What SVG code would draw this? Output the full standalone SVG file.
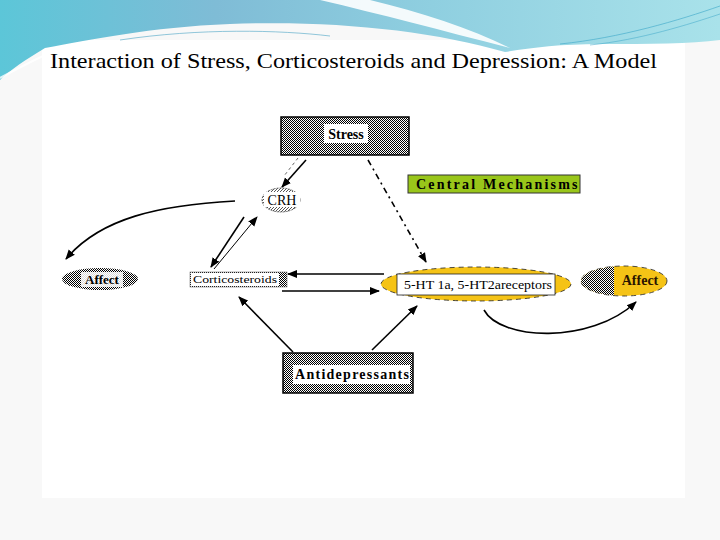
<svg xmlns="http://www.w3.org/2000/svg" width="720" height="540" viewBox="0 0 720 540">
<style>
text{font-family:"Liberation Serif","DejaVu Serif",serif;fill:#000}
.b{font-weight:bold}
.edge{stroke:#000;stroke-width:1.6;fill:none}
.thin{stroke:#000;stroke-width:1;fill:none}
</style>
<defs>
<pattern id="dither" patternUnits="userSpaceOnUse" width="2" height="2">
<rect width="2" height="2" fill="#fff"/>
<rect width="1" height="1" fill="#000"/>
<rect x="1" y="1" width="1" height="1" fill="#000"/>
</pattern>
<pattern id="ditherLight" patternUnits="userSpaceOnUse" width="3" height="3">
<rect width="3" height="3" fill="#fff"/>
<rect width="1" height="1" fill="#555"/>
<rect x="2" y="1" width="1" height="1" fill="#555"/>
<rect x="1" y="2" width="1" height="1" fill="#555"/>
</pattern>
<linearGradient id="sky" x1="0" y1="0" x2="1" y2="0">
<stop offset="0" stop-color="#5cc6d8"/>
<stop offset="0.3" stop-color="#7fbcd6"/>
<stop offset="0.6" stop-color="#8fcfe0"/>
<stop offset="1" stop-color="#a9e2ea"/>
</linearGradient>
<marker id="arr" viewBox="0 0 10 10" refX="9" refY="5" markerWidth="10" markerHeight="10" markerUnits="userSpaceOnUse" orient="auto">
<path d="M0,1 L10,5 L0,9 z" fill="#000"/>
</marker>
<clipPath id="leftHalf"><rect x="580" y="260" width="34" height="40"/></clipPath>
</defs>

<rect width="720" height="540" fill="#f8f8f8"/>
<rect x="42" y="40" width="643" height="458" fill="#fff"/>

<g id="header">
<path d="M0,0 H720 V40 C 690,44 650,44 600,44 C 560,44 530,48 505,52 C 430,30 330,20 230,24 C 150,27 90,40 45,48 C 25,60 10,70 0,80 Z" fill="url(#sky)"/>
<path d="M320,0 C 380,14 440,30 510,48 C 470,28 420,12 370,0 Z" fill="#ffffff" opacity="0.9"/>
<path d="M0,78 C 15,70 30,62 45,55" stroke="#ffffff" stroke-width="2" fill="none" opacity="0.8"/>
<path d="M120,40 C 200,28 280,30 330,36" stroke="#4aa3c4" stroke-width="1" fill="none" opacity="0.6"/>
<path d="M560,44 C 620,38 680,20 720,6" stroke="#3aa6c8" stroke-width="1" fill="none" opacity="0.6"/>
<path d="M590,45 C 640,40 690,24 720,14" stroke="#3aa6c8" stroke-width="1" fill="none" opacity="0.5"/>
</g>

<text x="50" y="68" font-size="21" textLength="607" lengthAdjust="spacingAndGlyphs">Interaction of Stress, Corticosteroids and Depression:  A Model</text>

<g id="connectors">
<line class="edge" x1="306" y1="160" x2="282" y2="187" marker-end="url(#arr)"/>
<line x1="298" y1="158" x2="284" y2="176" stroke="#666" stroke-width="1" stroke-dasharray="3,3"/>
<line x1="368" y1="160" x2="426" y2="262" stroke="#000" stroke-width="1.6" stroke-dasharray="6,4,2,4" marker-end="url(#arr)"/>
<path class="edge" d="M235,201 C 160,205 100,218 66,259" marker-end="url(#arr)"/>
<line class="edge" x1="244" y1="217" x2="211" y2="267" marker-end="url(#arr)"/>
<line class="thin" x1="214" y1="269" x2="257" y2="217" marker-end="url(#arr)"/>
<line class="edge" x1="384" y1="274" x2="288" y2="274" marker-end="url(#arr)"/>
<line class="edge" x1="282" y1="291" x2="379" y2="291" marker-end="url(#arr)"/>
<line class="edge" x1="293" y1="352" x2="239" y2="297" marker-end="url(#arr)"/>
<line class="edge" x1="372" y1="350" x2="417" y2="306" marker-end="url(#arr)"/>
<path class="edge" d="M484,310 C 500,340 590,345 636,302" marker-end="url(#arr)"/>
</g>

<g id="stress">
<rect x="281" y="117" width="128" height="38" fill="url(#dither)" stroke="#000" stroke-width="1.5"/>
<rect x="324" y="124" width="44" height="19" fill="#fff"/>
<text class="b" x="346" y="139" font-size="14" text-anchor="middle">Stress</text>
</g>

<g id="central">
<rect x="408" y="175" width="172" height="18" fill="#99c61a" stroke="#333" stroke-width="1"/>
<text class="b" x="416" y="189" font-size="14" letter-spacing="2.2">Central Mechanisms</text>
</g>

<g id="crh">
<ellipse cx="281" cy="200" rx="19" ry="12" fill="url(#ditherLight)" stroke="#444" stroke-width="0.8" stroke-dasharray="2,1"/>
<rect x="264" y="192" width="36" height="15" fill="#fff"/>
<text x="282" y="205" font-size="14" text-anchor="middle">CRH</text>
</g>

<g id="affect-left">
<ellipse cx="100" cy="279" rx="38" ry="11" fill="url(#dither)"/>
<rect x="81" y="272" width="42" height="15" fill="#fff" opacity="0.85"/>
<text class="b" x="102" y="284" font-size="13" text-anchor="middle">Affect</text>
</g>

<g id="corticosteroids">
<rect x="190" y="272" width="97" height="15" fill="url(#dither)" stroke="#777" stroke-width="0.6"/>
<rect x="191" y="273" width="88" height="13" fill="#fff"/>
<text x="235" y="283" font-size="10.5" text-anchor="middle" textLength="84" lengthAdjust="spacingAndGlyphs">Corticosteroids</text>
</g>

<g id="receptors">
<ellipse cx="476" cy="284" rx="95" ry="17" fill="#f5c316" stroke="#222" stroke-width="0.8" stroke-dasharray="5,4"/>
<rect x="397" y="274" width="158" height="21" fill="#fff" stroke="#222" stroke-width="0.8"/>
<text x="404" y="289" font-size="12.5" textLength="148" lengthAdjust="spacingAndGlyphs">5-HT 1a, 5-HT2areceptors</text>
</g>

<g id="affect-right">
<ellipse cx="624" cy="281" rx="43" ry="15" fill="#f5c316" stroke="#222" stroke-width="0.8" stroke-dasharray="5,4"/>
<ellipse cx="624" cy="281" rx="43" ry="15" fill="url(#dither)" clip-path="url(#leftHalf)"/>
<text class="b" x="640" y="285" font-size="14" text-anchor="middle" style="fill:#2a1400">Affect</text>
</g>

<g id="antidepressants">
<rect x="283" y="353" width="130" height="40" fill="url(#dither)" stroke="#000" stroke-width="1.5"/>
<rect x="293" y="365" width="117" height="19" fill="#fff"/>
<text class="b" x="352" y="379" font-size="14" text-anchor="middle" textLength="114" lengthAdjust="spacing">Antidepressants</text>
</g>
</svg>
